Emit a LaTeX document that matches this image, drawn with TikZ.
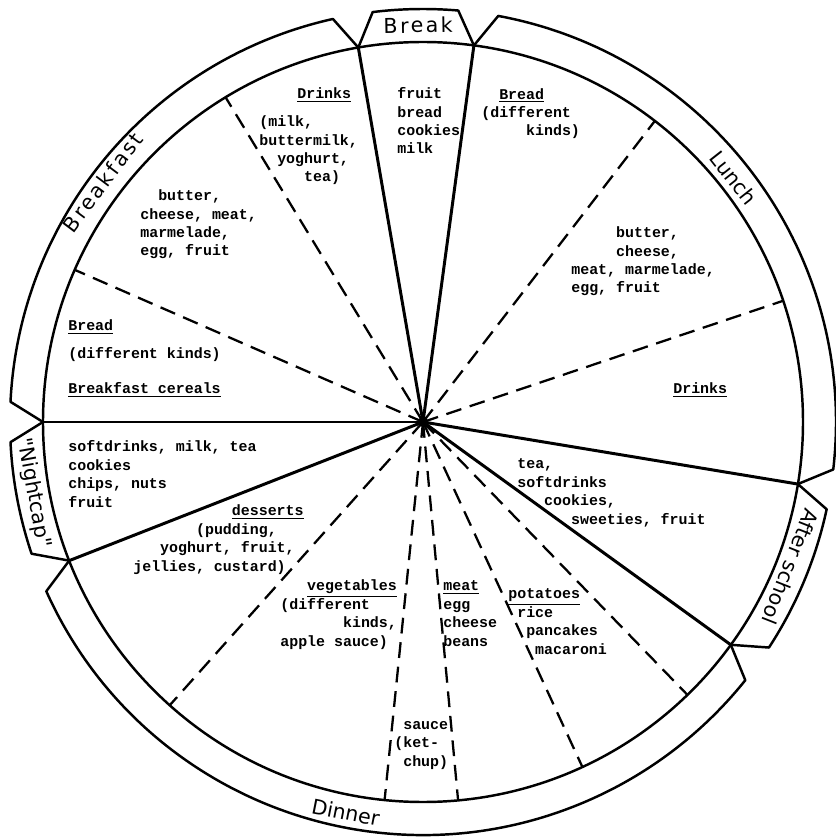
\documentclass[tikz,border=0pt]{standalone}
\usepackage{fontspec}
\setmonofont{Liberation Mono}
\newfontfamily\tagfont{DejaVu Sans}
\newfontfamily\widetagfont{DejaVu Sans}[LetterSpace=12]
\newcommand\skipch[1]{\hspace*{#1\fontdimen2\font}}

\begin{document}
\begin{tikzpicture}[scale=0.02,
    item/.style={font=\ttfamily\bfseries\fontsize{8.5}{10.5}\selectfont, align=left, anchor=base west, inner sep=0pt},
    tag/.style={font=\tagfont\fontsize{11.7}{12}\selectfont, inner sep=0pt},
    widetag/.style={tag, font=\widetagfont\fontsize{11.7}{12}\selectfont},
    divider/.style={line width=1.7pt},
    subdiv/.style={line width=1.3pt, dash pattern=on 9pt off 5pt},
    rim/.style={line width=1.4pt, line join=round}]
  \def\R{380}
  \def\Ro{413}
  \useasboundingbox (-423,-415) rectangle (413,422);
  \coordinate (hub) at (0,0);
  \draw[rim] (hub) circle[radius=\R];
  \foreach \a/\b in {82.3/99.8, 99.8/180, 180/201.4, 201.4/324.1, 324.1/350.6, -9.4/82.3}
    \draw[rim] (\a:\R) -- ({\a+2.8}:\Ro) arc[start angle=\a+2.8, end angle=\b-2.8, radius=\Ro] -- (\b:\R);
  \foreach \a in {121.3, 156.4, 18.6, 52.4, 228.2, 264.2, 275.3, 294.8, 314.1}
    \draw[subdiv] (hub) -- (\a:\R);
  \foreach \a in {82.3, 99.8, 180, 201.4, 324.1, 350.6}
    \draw[divider] (hub) -- (\a:\R);
  \fill (hub) circle[radius=5];

  \node[widetag, rotate=1] (tbreak) at (90.7:397) {Break};
  \node[widetag, rotate=53.2] (tbreakfast) at (143.2:400) {Breakfast};
  \node[tag, rotate=-51.8] (tlunch) at (38.2:395) {Lunch};
  \node[tag, rotate=-111.5] (tafter) at (-21.5:395) {After school};
  \node[tag, rotate=-11.2] (tdinner) at (258.8:398) {Dinner};
  \node[tag, rotate=-79.7] (tnight) at (190.3:396) {"Nightcap"};

  \node[item] (bfdrinks) at (-126,323) {\underline{Drinks}};
  \node[item] (bfdrinklist) at (-164,240) {(milk,\\buttermilk,\\\skipch{2}yoghurt,\\\skipch{5}tea)};
  \node[item] (bfspread) at (-283,166) {\skipch{2}butter,\\cheese, meat,\\marmelade,\\egg, fruit};
  \node[item] (bfbread) at (-355,91) {\underline{Bread}};
  \node[item] (bfkinds) at (-355,63) {(different kinds)};
  \node[item] (bfcereal) at (-355,28) {\underline{Breakfast cereals}};

  \node[item] (brlist) at (-26,268) {fruit\\bread\\cookies\\milk};

  \node[item] (lubread) at (58,286) {\skipch{2}\underline{Bread}\\(different\\\skipch{5}kinds)};
  \node[item] (luspread) at (148,129) {\skipch{5}butter,\\\skipch{5}cheese,\\meat, marmelade,\\egg, fruit};
  \node[item] (ludrinks) at (250,28) {\underline{Drinks}};

  \node[item] (aslist) at (94,-102) {tea,\\softdrinks\\\skipch{3}cookies,\\\skipch{6}sweeties, fruit};

  \node[item] (nclist) at (-355,-85) {softdrinks, milk, tea\\cookies\\chips, nuts\\fruit};

  \node[item] (dndessert) at (-290,-149) {\skipch{11}\underline{desserts}\\\skipch{7}(pudding,\\\skipch{3}yoghurt, fruit,\\jellies, custard)};
  \node[item] (dnveg) at (-143,-224) {\skipch{3}\underline{vegetables}\\(different\\\skipch{7}kinds,\\apple sauce)};
  \node[item] (dnmeat) at (20,-224) {\underline{meat}\\egg\\cheese\\beans};
  \node[item] (dnpotato) at (85,-232) {\underline{potatoes}\\\skipch{1}rice\\\skipch{2}pancakes\\\skipch{3}macaroni};
  \node[item] (dnsauce) at (-29,-344) {\skipch{1}sauce\\(ket-\\\skipch{1}chup)};
\end{tikzpicture}
\end{document}
